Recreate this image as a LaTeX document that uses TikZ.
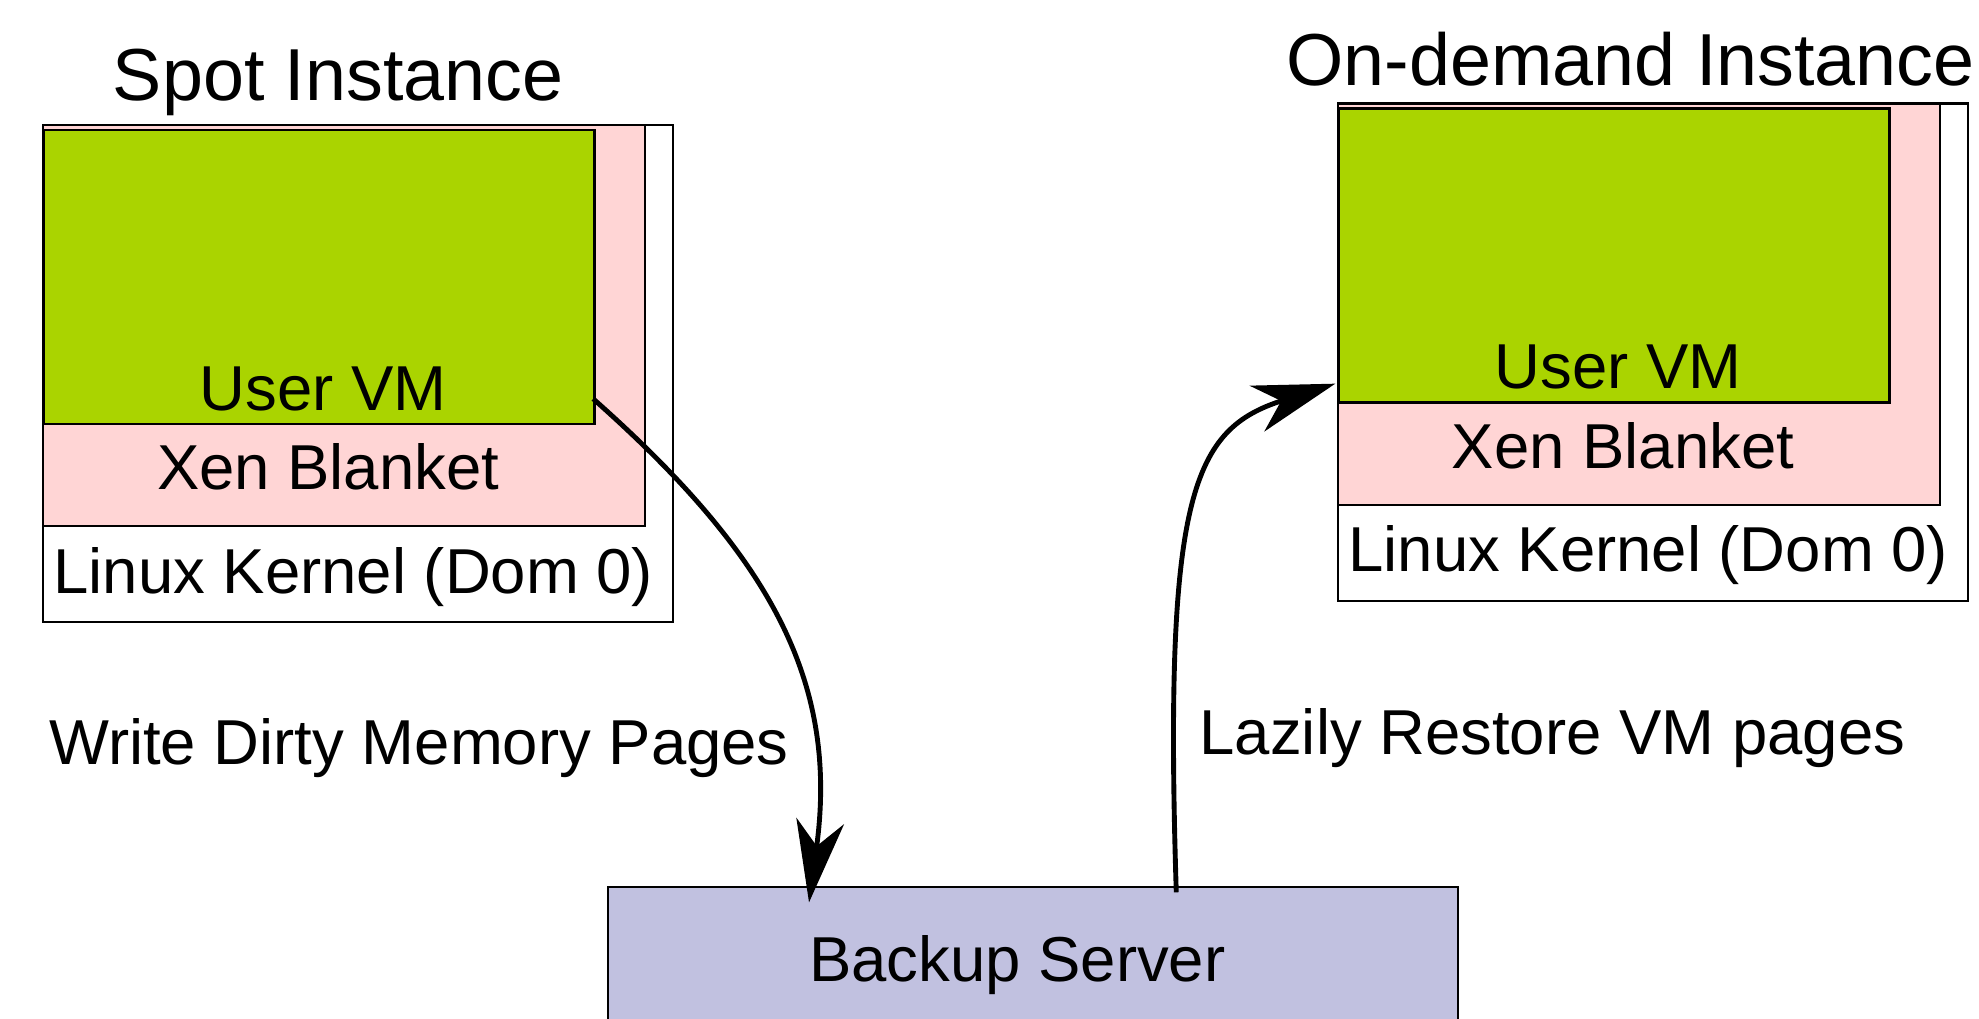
\documentclass[tikz,border=0pt]{standalone}
\usepackage{fontspec}
\setmainfont{Liberation Sans}
\usetikzlibrary{arrows.meta}

\definecolor{VMgreen}{HTML}{AAD400}
\definecolor{Blush}{HTML}{FFD5D5}
\definecolor{Lavender}{HTML}{C1C1E0}

\newcommand{\drawinstance}[3]{% Parameters: name, x, y
  \draw[draw=black,line width=0.5pt,fill=white]   (#2,#3) rectangle ++(499,394);
  \draw[draw=black,line width=0.5pt,fill=Blush]   (#2,#3) rectangle ++(477,318);
  \draw[draw=black,line width=0.5pt,fill=VMgreen] (#2,#3) ++(1,4) rectangle ++(436,233);
  \path (#2,#3) ++(222,226) node[layertext] (#1vm) {User VM};
  \path (#2,#3) ++(226,289) node[layertext] (#1xen) {Xen Blanket};
  \path (#2,#3) ++(246,371) node[layertext] (#1dom) {Linux Kernel (Dom 0)};
  \path (#2,#3) ++(436,217) coordinate (#1vmright);
  \path (#2,#3) ++(-2,222) coordinate (#1vmleft);
}

\begin{document}
\begin{tikzpicture}[x=0.01cm,y=-0.01cm,
    layertext/.style={anchor=base,inner sep=0pt,font=\fontsize{14.3}{17}\selectfont},
    titletext/.style={anchor=base,inner sep=0pt,font=\fontsize{16.6}{20}\selectfont},
    flow/.style={line width=1.1pt,-{Stealth[length=6.5mm,width=3.8mm,inset=2mm]}}]
    \useasboundingbox (0,0) rectangle (1568,807);
    \drawinstance{spot}{34}{99}
    \drawinstance{od}{1060}{82}
    \node[titletext] (spottitle) at (268,80) {Spot Instance};
    \node[titletext] (odtitle) at (1292,68) {On-demand Instance};
    \node[draw=black,line width=0.5pt,fill=Lavender,anchor=north west,
      minimum width=6.73cm,minimum height=1.26cm,inner sep=0pt] (backup) at (481,702) {};
    \node[layertext] (backuptext) at (806,778) {Backup Server};
    \path (backup.north west) ++(160,13) coordinate (bkin);
    \path (backup.north west) ++(451,5) coordinate (bkout);
    \node[layertext] (writelbl) at (332,606) {Write Dirty Memory Pages};
    \node[layertext] (restorelbl) at (1230,598) {Lazily Restore VM pages};
    \draw[flow] (spotvmright) .. controls (610,440) and (665,540) .. (bkin);
    \draw[flow] (bkout) .. controls (922,390) and (945,340) .. (odvmleft);
  \end{tikzpicture}
\end{document}
